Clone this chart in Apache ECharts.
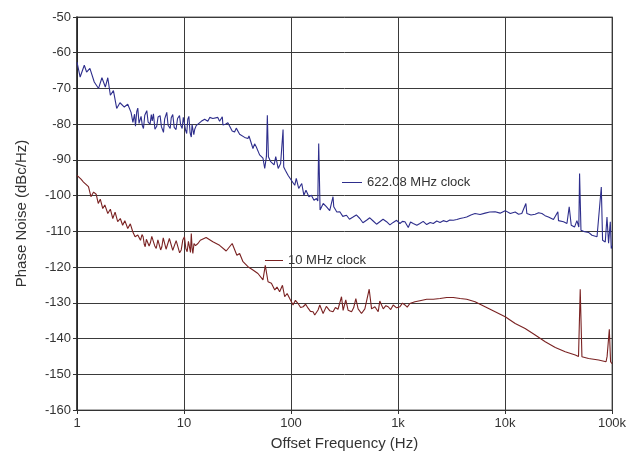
<!DOCTYPE html>
<html>
<head>
<meta charset="utf-8">
<script src="https://cdn.jsdelivr.net/npm/echarts@6/dist/echarts.min.js"></script>
<style>
  html, body { margin: 0; padding: 0; background: #fff; }
  #chart { width: 640px; height: 453px; }
</style>
</head>
<body>
<div id="chart"></div>
<script>
// 622.08 MHz clock: offset frequency (Hz) and phase noise (dBc/Hz)
var blueFreq = [1, 1.07, 1.17, 1.23, 1.32, 1.45, 1.59, 1.71, 1.84, 1.94, 2.05, 2.19, 2.35, 2.52, 2.77, 2.98,
  3.2, 3.33, 3.45, 3.52, 3.62, 3.7, 3.8, 3.97, 4.08, 4.18, 4.3, 4.49, 4.62, 4.82, 4.95, 5.05, 5.18, 5.35,
  5.56, 5.72, 5.98, 6.15, 6.43, 6.6, 6.9, 7.1, 7.43, 7.6, 7.85, 8.1, 8.43, 8.7, 9.08, 9.3, 9.61, 9.85,
  10.1, 10.35, 10.6, 10.85, 11.1, 11.4, 11.7, 11.9, 12.1, 12.35, 12.6, 13.0, 13.5,
  14.5, 15.6, 16.7, 17.4, 18.6, 20.7, 21.5, 22.8, 23.1, 24.4,
  25.7, 28.2, 29.7, 30.8, 33.1, 34.4, 36.9, 39.6, 40.5, 44.1, 45.7, 47.3, 50.9, 54.7, 56.8, 58.9, 60.1,
  61.5, 64.6, 69.5, 72, 75.9, 80, 84.3, 85.5, 88.5, 93.8, 100.7, 104, 108.4, 112, 118, 126, 132, 138,
  147, 155, 164, 173, 178, 181.5, 187, 200, 204, 214, 230, 247, 251, 268, 286, 305, 330, 352, 380, 408,
  440, 470, 508, 545, 586, 630, 676, 725, 782, 840, 902, 970, 1042, 1100, 1161, 1247, 1310, 1387, 1500,
  1603, 1720, 1854, 2000, 2138, 2300, 2472, 2650, 2851, 3050, 3289, 3550, 3802, 4100, 4385, 4800, 5248,
  5850, 6516, 7200, 8091, 9000, 10046, 11220, 12450, 13400, 14355, 15670, 16000, 17500, 19140, 20600,
  22130, 23700, 25470, 28380, 31190, 31620, 35240, 37930, 39810, 41590, 44670, 46990, 48980, 49770,
  51290, 54200, 60390, 65010, 72440, 74990, 79430, 81660, 86500, 89750, 92900, 96390, 98400, 100000];
var blueDb = [-62.6, -66.8, -63.5, -65.4, -64.4, -68.2, -70, -67, -69.6, -67, -71.9, -70.6, -75.6, -74, -75.2, -74.4,
  -76.7, -79.5, -77.2, -80.6, -76.4, -75.5, -79.8, -77.8, -80.4, -81.2, -77.5, -76.2, -79.4, -80, -77.3, -79.1, -77.1, -81.4,
  -80.6, -78, -77.6, -80.7, -82.3, -78.5, -76.7, -80.3, -81.2, -78.2, -77.3, -80.9, -81.5, -78.4, -77.6, -80.2, -81.2, -78.1,
  -78.3, -81.7, -82.6, -78.6, -77.8, -82.4, -83.6, -80.1, -79.6, -82.9, -81.4, -80.4, -80.6,
  -79.2, -78.6, -79.2, -78.1, -78.4, -78.1, -79.2, -77.9, -80.2, -80,
  -79.6, -81.9, -82.2, -81.1, -82.8, -83.1, -83.7, -84, -83.3, -86.8, -85.5, -86.3, -88.6, -89.5, -92.4, -89.1, -77.5,
  -89.1, -90.5, -91.4, -89.1, -92.4, -91, -81.5, -92, -92.9, -94.3, -95.7, -95.2, -97.1, -95.2, -98, -96.6, -99.9, -98.5,
  -100.3, -99.9, -101.3, -100.8, -101.5, -85.4, -104, -102.2, -102.7, -103.1, -104.2, -100.3, -103.1, -104.6, -104.5, -105.8, -105.5, -106.6, -106, -105.4,
  -106.4, -107.6, -106.9, -106.2, -107.1, -108, -107.3, -106.6, -107.3, -108.2, -107.5, -106.9, -107.8, -107.2, -107.3, -108.9, -107.4, -107.8, -108.3,
  -107.8, -107.2, -108.1, -107.5, -107.8, -107.1, -107.5, -107, -107.3, -106.8, -106.9, -106.7, -106.4, -106.2, -106, -105.4, -105,
  -105.3, -104.9, -104.6, -104.5, -104.9, -104.2, -105, -104.6, -105.2, -105, -102.2, -105, -105.4, -105.2, -104.8,
  -105, -105.6, -106, -106.7, -104.5, -107, -107.3, -107.8, -103.1, -108.3, -108.8, -107, -108.8, -93.8,
  -109.7, -110, -110.3, -111.1, -111.5, -112, -97.6, -112.5, -113, -106, -113.3, -107.3, -114.8, -114];

// 10 MHz clock
var redFreq = [1, 1.09, 1.15, 1.2, 1.28, 1.35, 1.43, 1.51, 1.58, 1.65, 1.74, 1.82, 1.94, 2.05, 2.16, 2.27, 2.4,
  2.54, 2.67, 2.8, 2.98, 3.15, 3.32, 3.49, 3.7,
  3.92, 4.05, 4.15, 4.25, 4.34, 4.45, 4.58, 4.72, 4.85, 5.0, 5.15, 5.32, 5.5, 5.7, 5.9, 6.05, 6.21, 6.4,
  6.56, 6.8, 7.06, 7.3, 7.59, 7.85, 8.15, 8.45, 8.75, 9.1, 9.42, 9.75, 10.1, 10.4, 10.7, 11.0, 11.3, 11.5,
  11.7, 11.9, 12.1, 12.4, 12.8, 13.5,
  14.2, 16.1, 18.6, 21.5, 24.8,
  28.2, 31.2, 33.1, 35.6, 39.6, 44.1, 49.1, 54.7, 57.5, 61, 65.6, 70.5, 74, 78.3, 83.2, 87.3, 92, 97.2, 104.5,
  110, 116.4, 123, 129.7, 137, 144.5, 152, 160.7, 166.7, 179, 185.8, 199.5, 214, 230, 247, 260, 275, 296.5,
  307, 325, 342, 368, 385, 403.6, 424, 456, 490, 538, 566, 608, 653, 676, 728, 770, 809, 855, 902, 970,
  1042, 1100, 1161, 1220, 1291, 1439, 1603, 1854, 2138, 2472, 2851, 3289, 3802, 4385, 5248, 6516, 8091,
  10046, 12450, 15420, 19140, 23770, 29510, 36560, 45390, 48640, 50470, 52360, 60390, 74990, 88000,
  90000, 94400, 97000, 100000];
var redDb = [-94.3, -95.4, -96.2, -95.8, -97.5, -100.3, -99, -99.6, -102.2, -101, -103.6, -102.6, -105, -103.8, -106.4, -104.6, -107.3,
  -106.4, -108.3, -107, -109.2, -107.9, -110.1, -111.5, -111,
  -112.5, -110.9, -111.5, -113.6, -114.3, -112.2, -111.7, -114.1, -113.2, -111.4, -111.5, -114, -114.8, -112.4, -112.5, -115.2, -114.3, -111.8,
  -112.1, -115, -114.8, -112, -112.5, -115.3, -115.7, -112.6, -113, -116, -115.2, -112.4, -111.5, -114.8, -115.7, -112.8, -113, -115.9,
  -110.6, -114.6, -116.2, -113.4, -114, -113.4,
  -112.5, -111.7, -112.9, -113.9, -115.5,
  -113.4, -116.7, -116.2, -118.5, -119.9, -120.8, -121.8, -123.6, -119.5, -124.1, -124.5, -126.4, -125.6, -126.9, -125.1, -128.3, -127.4, -128.8, -130.6,
  -129.3, -130.2, -131.3, -131.1, -130.4, -131.5, -132.4, -132.5, -133.4, -132, -130.6, -133, -131, -132.2, -132.5, -131.3, -131.8, -128.3,
  -132.1, -129.2, -132.1, -132.5, -131.4, -128.8, -131.7, -133, -131.7, -126.2, -131.7, -131.1, -132.5, -129.5, -131.7, -130.8, -131.1, -131.9, -130.6, -131.4,
  -131.1, -130.1, -130.6, -131.2, -130.2, -129.7, -129.4, -129, -129, -128.8, -128.5, -128.5, -128.8, -129, -129.7, -131.1, -132.5,
  -133.9, -135.8, -137.2, -139, -140.9, -142.5, -143.7, -144.6, -145, -126.2, -145.1, -145.6, -146, -146.5,
  -145, -137.4, -146.5, -147];

var yTicks = [-160, -150, -140, -130, -120, -110, -100, -90, -80, -70, -60, -50];
var xTickLabels = { 1: '1', 10: '10', 100: '100', 1000: '1k', 10000: '10k', 100000: '100k' };

function pairs(xs, ys) {
  return xs.map(function(x, i) { return [x, ys[i]]; });
}

var font = '"Liberation Sans", Arial, sans-serif';
var textColor = '#333';
var chart = echarts.init(document.getElementById('chart'), null, { renderer: 'canvas' });
chart.setOption({
  animation: false,
  grid: {
    left: 77, right: 28, top: 17, bottom: 43, show: true, borderColor: '#999', borderWidth: 1.5,
    containLabel: false, outerBoundsMode: 'none'
  },
  legend: [
    {
      data: ['622.08 MHz clock'], left: 337, top: 171, icon: 'rect', itemWidth: 20, itemHeight: 1,
      textStyle: { color: textColor, fontFamily: font, fontSize: 13 }
    },
    {
      data: ['10 MHz clock'], left: 260, top: 249, icon: 'rect', itemWidth: 18, itemHeight: 1,
      textStyle: { color: textColor, fontFamily: font, fontSize: 13 }
    }
  ],
  xAxis: {
    type: 'log',
    logBase: 10,
    min: 1,
    max: 100000,
    name: 'Offset Frequency (Hz)',
    nameLocation: 'middle',
    nameGap: 26,
    nameTextStyle: { color: textColor, fontFamily: font, fontSize: 15 },
    axisLine: { lineStyle: { color: '#333', width: 1 } },
    axisTick: { show: true, length: 4, lineStyle: { color: '#333' } },
    axisLabel: {
      color: textColor, fontFamily: font, fontSize: 13, margin: 7,
      formatter: function(v) { return xTickLabels[Math.round(v)] || ''; }
    },
    splitLine: { show: true, lineStyle: { color: '#3a3a3a', width: 1 } }
  },
  yAxis: {
    type: 'value',
    min: yTicks[0],
    max: yTicks[yTicks.length - 1],
    interval: 10,
    name: 'Phase Noise (dBc/Hz)',
    nameLocation: 'middle',
    nameGap: 48,
    nameTextStyle: { color: textColor, fontFamily: font, fontSize: 15 },
    axisLine: { show: true, lineStyle: { color: '#222', width: 1.5 } },
    axisTick: { show: true, length: 4, lineStyle: { color: '#333' } },
    axisLabel: { color: textColor, fontFamily: font, fontSize: 13, margin: 6 },
    splitLine: { show: true, lineStyle: { color: '#3a3a3a', width: 1 } }
  },
  series: [
    {
      name: '622.08 MHz clock',
      type: 'line',
      data: pairs(blueFreq, blueDb),
      showSymbol: false,
      symbol: 'none',
      lineStyle: { color: '#2e2e8c', width: 1.1 },
      itemStyle: { color: '#2e2e8c' }
    },
    {
      name: '10 MHz clock',
      type: 'line',
      data: pairs(redFreq, redDb),
      showSymbol: false,
      symbol: 'none',
      lineStyle: { color: '#7a2222', width: 1.1 },
      itemStyle: { color: '#7a2222' }
    }
  ]
});
window.addEventListener('resize', function() { chart.resize(); });
</script>
</body>
</html>
